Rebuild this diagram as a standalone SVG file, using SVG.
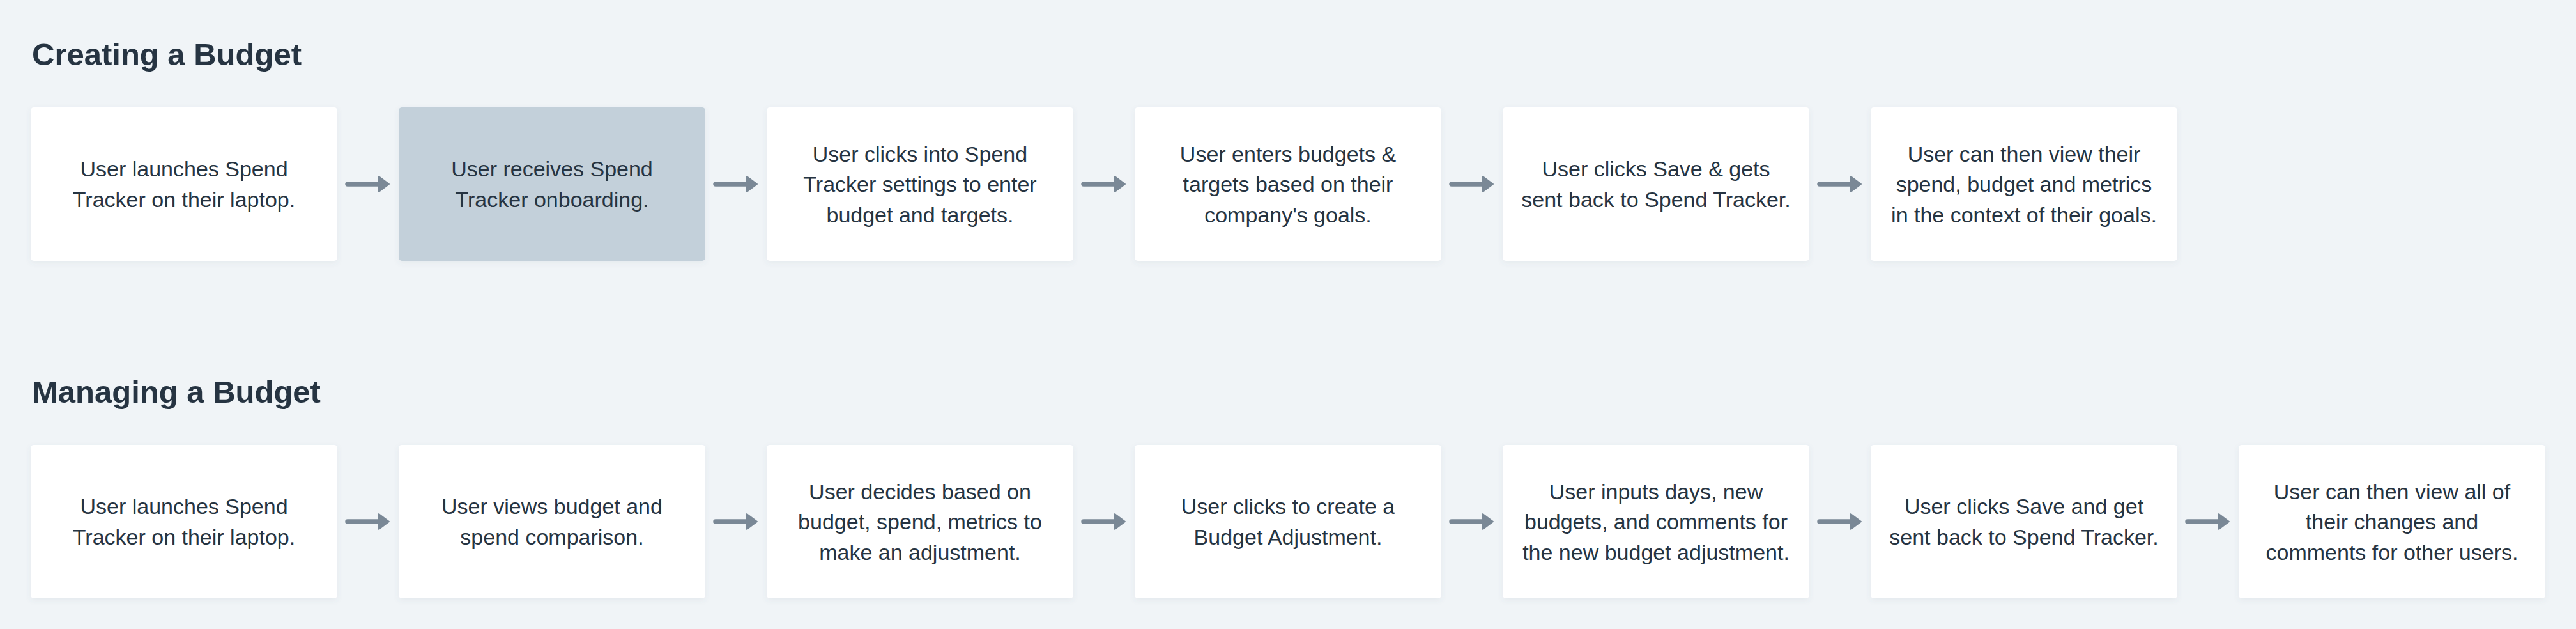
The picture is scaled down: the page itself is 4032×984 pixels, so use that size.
<svg xmlns="http://www.w3.org/2000/svg" xmlns:xlink="http://www.w3.org/1999/xlink" width="4032" height="984" viewBox="0 0 4032 984">
<style>
.bg{fill:#f0f4f7}
.box{fill:#ffffff;filter:url(#sh)}
.box.hl{fill:#c3d0da}
.t{font-family:"Liberation Sans",Arial,sans-serif;font-size:34px;fill:#263442;text-anchor:middle}
.h{font-family:"Liberation Sans",Arial,sans-serif;font-size:49px;font-weight:bold;fill:#263442}
.al{stroke:#7a8896;stroke-width:7.5;stroke-linecap:round;fill:none}
.ah{fill:#7a8896;stroke:#7a8896;stroke-width:2;stroke-linejoin:round}
</style>
<defs>
<filter id="sh" x="-5%" y="-5%" width="110%" height="115%">
<feDropShadow dx="0" dy="3" stdDeviation="4" flood-color="#5a6b7b" flood-opacity="0.08"/>
</filter>
<g id="arrow">
<line class="al" x1="4" y1="0" x2="58" y2="0"/>
<path class="ah" d="M53,-12 L69,0 L53,12 Z"/>
</g>
</defs>
<rect class="bg" x="0" y="0" width="4032" height="984"/>

<text class="h" x="50" y="102">Creating a Budget</text>
<text class="h" x="50" y="630">Managing a Budget</text>

<g id="connectors">
<use xlink:href="#arrow" x="540" y="288"/>
<use xlink:href="#arrow" x="1116" y="288"/>
<use xlink:href="#arrow" x="1692" y="288"/>
<use xlink:href="#arrow" x="2268" y="288"/>
<use xlink:href="#arrow" x="2844" y="288"/>
<use xlink:href="#arrow" x="540" y="816"/>
<use xlink:href="#arrow" x="1116" y="816"/>
<use xlink:href="#arrow" x="1692" y="816"/>
<use xlink:href="#arrow" x="2268" y="816"/>
<use xlink:href="#arrow" x="2844" y="816"/>
<use xlink:href="#arrow" x="3420" y="816"/>
</g>

<g id="c1">
<rect class="box" x="48" y="168" width="480" height="240" rx="5"/>
<text class="t" x="288" y="276">User launches Spend</text>
<text class="t" x="288" y="324">Tracker on their laptop.</text>
</g>
<g id="c2">
<rect class="box hl" x="624" y="168" width="480" height="240" rx="5"/>
<text class="t" x="864" y="276">User receives Spend</text>
<text class="t" x="864" y="324">Tracker onboarding.</text>
</g>
<g id="c3">
<rect class="box" x="1200" y="168" width="480" height="240" rx="5"/>
<text class="t" x="1440" y="252.5">User clicks into Spend</text>
<text class="t" x="1440" y="300">Tracker settings to enter</text>
<text class="t" x="1440" y="347.5">budget and targets.</text>
</g>
<g id="c4">
<rect class="box" x="1776" y="168" width="480" height="240" rx="5"/>
<text class="t" x="2016" y="252.5">User enters budgets &amp;</text>
<text class="t" x="2016" y="300">targets based on their</text>
<text class="t" x="2016" y="347.5">company's goals.</text>
</g>
<g id="c5">
<rect class="box" x="2352" y="168" width="480" height="240" rx="5"/>
<text class="t" x="2592" y="276">User clicks Save &amp; gets</text>
<text class="t" x="2592" y="324">sent back to Spend Tracker.</text>
</g>
<g id="c6">
<rect class="box" x="2928" y="168" width="480" height="240" rx="5"/>
<text class="t" x="3168" y="252.5">User can then view their</text>
<text class="t" x="3168" y="300">spend, budget and metrics</text>
<text class="t" x="3168" y="347.5">in the context of their goals.</text>
</g>

<g id="m1">
<rect class="box" x="48" y="696" width="480" height="240" rx="5"/>
<text class="t" x="288" y="804">User launches Spend</text>
<text class="t" x="288" y="852">Tracker on their laptop.</text>
</g>
<g id="m2">
<rect class="box" x="624" y="696" width="480" height="240" rx="5"/>
<text class="t" x="864" y="804">User views budget and</text>
<text class="t" x="864" y="852">spend comparison.</text>
</g>
<g id="m3">
<rect class="box" x="1200" y="696" width="480" height="240" rx="5"/>
<text class="t" x="1440" y="780.5">User decides based on</text>
<text class="t" x="1440" y="828">budget, spend, metrics to</text>
<text class="t" x="1440" y="875.5">make an adjustment.</text>
</g>
<g id="m4">
<rect class="box" x="1776" y="696" width="480" height="240" rx="5"/>
<text class="t" x="2016" y="804">User clicks to create a</text>
<text class="t" x="2016" y="852">Budget Adjustment.</text>
</g>
<g id="m5">
<rect class="box" x="2352" y="696" width="480" height="240" rx="5"/>
<text class="t" x="2592" y="780.5">User inputs days, new</text>
<text class="t" x="2592" y="828">budgets, and comments for</text>
<text class="t" x="2592" y="875.5">the new budget adjustment.</text>
</g>
<g id="m6">
<rect class="box" x="2928" y="696" width="480" height="240" rx="5"/>
<text class="t" x="3168" y="804">User clicks Save and get</text>
<text class="t" x="3168" y="852">sent back to Spend Tracker.</text>
</g>
<g id="m7">
<rect class="box" x="3504" y="696" width="480" height="240" rx="5"/>
<text class="t" x="3744" y="780.5">User can then view all of</text>
<text class="t" x="3744" y="828">their changes and</text>
<text class="t" x="3744" y="875.5">comments for other users.</text>
</g>
</svg>
